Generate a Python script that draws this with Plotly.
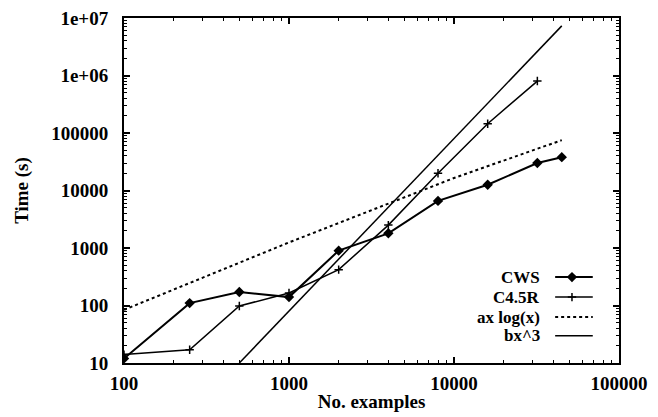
import plotly.graph_objects as go

# ---- data ----
cws_x = [100, 250, 500, 1000, 2000, 4000, 8000, 16000, 32000, 45000]
cws_y = [12, 110, 172, 140, 900, 1800, 6600, 12600, 30000, 38000]

c45_x = [100, 250, 500, 1000, 2000, 4000, 8000, 16000, 32000]
c45_y = [14, 17, 98, 165, 420, 2500, 20000, 145000, 800000]

axlog_x = [100, 1000, 10000, 45000]
axlog_y = [84, 1250, 16500, 75000]

bx3_x = [500, 1000, 10000, 45000]
bx3_y = [10, 80, 80000, 7300000]

legend_names = ["CWS", "C4.5R", "ax log(x)", "bx^3"]

x_ticks = [100, 1000, 10000, 100000]
x_tick_labels = ["100", "1000", "10000", "100000"]
y_ticks = [10, 100, 1000, 10000, 100000, 1000000, 10000000]
y_tick_labels = ["10", "100", "1000", "10000", "100000", "1e+06", "1e+07"]

x_minor = [m * d for d in [100, 1000, 10000] for m in range(2, 10)]
y_minor = [m * d for d in [10, 100, 1000, 10000, 100000, 1000000] for m in range(2, 10)]

FONT = "Liberation Serif"
BLACK = "#000000"

fig = go.Figure()

fig.add_trace(go.Scatter(x=cws_x, y=cws_y, mode="lines+markers",
                         line=dict(color=BLACK, width=2),
                         marker=dict(symbol="diamond", size=8, color=BLACK),
                         showlegend=False))
fig.add_trace(go.Scatter(x=c45_x, y=c45_y, mode="lines+markers",
                         line=dict(color=BLACK, width=1.5),
                         marker=dict(symbol="cross-thin", size=6,
                                     line=dict(color=BLACK, width=1.5)),
                         showlegend=False))
fig.add_trace(go.Scatter(x=axlog_x, y=axlog_y, mode="lines",
                         line=dict(color=BLACK, width=2, dash="dot"),
                         showlegend=False))
fig.add_trace(go.Scatter(x=bx3_x, y=bx3_y, mode="lines",
                         line=dict(color=BLACK, width=1.5),
                         showlegend=False))

# ---- hand-made legend (samples to the right of the labels) ----
leg_rows = [0.249, 0.191, 0.133, 0.079]
sx0, sx1, smark = 0.871, 0.947, 0.905
styles = [
    dict(line=dict(color=BLACK, width=2), marker=dict(symbol="diamond", size=8, color=BLACK)),
    dict(line=dict(color=BLACK, width=1.5), marker=dict(symbol="cross-thin", size=6, line=dict(color=BLACK, width=1.5))),
    dict(line=dict(color=BLACK, width=2, dash="dot"), marker=None),
    dict(line=dict(color=BLACK, width=1.5), marker=None),
]
for name, ry, st in zip(legend_names, leg_rows, styles):
    fig.add_trace(go.Scatter(x=[sx0, sx1], y=[ry, ry], mode="lines",
                             line=st["line"], xaxis="x2", yaxis="y2",
                             showlegend=False, hoverinfo="skip"))
    if st["marker"] is not None:
        fig.add_trace(go.Scatter(x=[smark], y=[ry], mode="markers",
                                 marker=st["marker"], xaxis="x2", yaxis="y2",
                                 showlegend=False, hoverinfo="skip"))
    fig.add_annotation(x=0.845, y=ry, xref="paper", yref="paper",
                       text=name, showarrow=False, xanchor="right", yanchor="middle",
                       font=dict(family=FONT, size=17, color=BLACK, weight="bold"))

axis_common = dict(type="log", showgrid=False, zeroline=False, automargin=False,
                   showline=True, linecolor=BLACK, linewidth=2, mirror="allticks",
                   ticks="inside", ticklen=6, tickwidth=1.5, tickcolor=BLACK,
                   tickfont=dict(family=FONT, size=19, color=BLACK, weight="bold"))

fig.update_layout(
    width=658, height=417,
    margin=dict(l=124, r=39, t=18, b=54),
    paper_bgcolor="white", plot_bgcolor="white",
    xaxis=dict(axis_common, range=[2, 5], tickvals=x_ticks, ticktext=x_tick_labels,
               ticklabelstandoff=2,
               minor=dict(ticks="inside", ticklen=3, tickcolor=BLACK, tickwidth=1.2,
                          tickvals=x_minor, showgrid=False),
               title=dict(text="No. examples", standoff=2,
                          font=dict(family=FONT, size=19, color=BLACK, weight="bold"))),
    yaxis=dict(axis_common, range=[1, 7], tickvals=y_ticks, ticktext=y_tick_labels,
               ticklabelstandoff=10,
               minor=dict(ticks="inside", ticklen=3, tickcolor=BLACK, tickwidth=1.2,
                          tickvals=y_minor, showgrid=False),
               title=dict(text="Time (s)", standoff=18,
                          font=dict(family=FONT, size=19, color=BLACK, weight="bold"))),
    xaxis2=dict(overlaying="x", range=[0, 1], visible=False, anchor="y2"),
    yaxis2=dict(overlaying="y", range=[0, 1], visible=False, anchor="x2"),
    showlegend=False,
)

fig.write_html("out.html")
